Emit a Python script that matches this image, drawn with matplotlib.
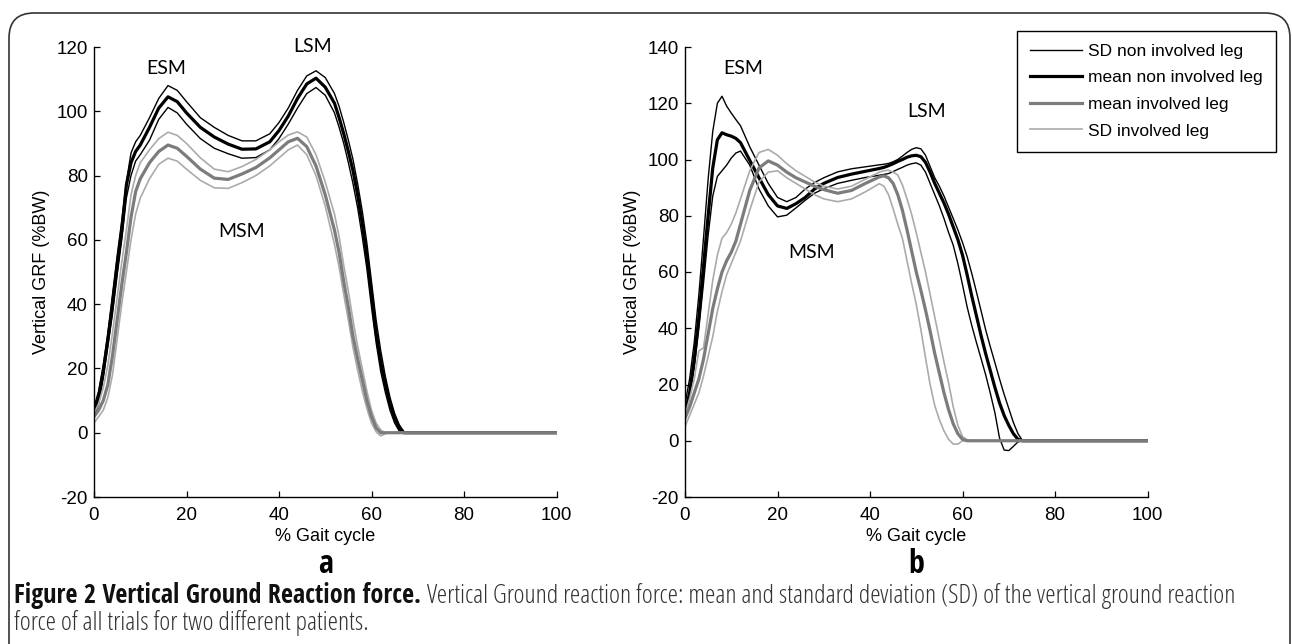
import matplotlib
matplotlib.use("Agg")
import matplotlib.pyplot as plt
from matplotlib import font_manager as fm
from matplotlib.patches import FancyBboxPatch
from matplotlib.font_manager import FontProperties

# ---------------- data ----------------
# panel a
xa = [0, 1, 2, 3, 4, 5, 6, 7, 8, 9, 10, 12, 14, 16, 18, 20, 23, 26, 29, 32, 35, 38,
      40, 42, 44, 46, 48, 50, 52, 53, 54, 55, 56, 57, 58, 59, 60, 61, 62, 63, 64, 65,
      66, 67, 68, 100]
a_sd_non_up = [8, 13, 21, 31, 43, 55, 66, 78, 87, 90.5, 92.5, 98, 104, 108, 106.5, 103,
               98, 95, 92.5, 90.8, 90.8, 93, 96.5, 101, 106.5, 111, 112.6, 110.5, 105.5,
               101.5, 96.5, 91, 85, 77.5, 69, 59, 47, 35, 25.5, 17.5, 11, 6, 2.5, 0.3, 0, 0]
a_mean_non = [6, 11, 19, 29, 40, 52, 63, 77, 84, 87.5, 89.5, 95, 101, 104.5, 103, 99.5,
              95, 92, 89.8, 88.2, 88.3, 90.5, 94, 98.5, 104, 108.5, 110.3, 107.5, 102.5,
              98, 93, 87.5, 81.5, 74, 65, 55, 43, 31, 22, 15, 9, 4.5, 1.5, 0, 0, 0]
a_sd_non_lo = [5, 9, 17, 27, 37, 49, 60, 73, 80, 84.5, 86.5, 91, 97.5, 101.2, 99.5, 96,
               91.5, 88.5, 86.8, 85.4, 85.6, 88, 91.5, 96, 101, 105.5, 107.4, 105, 99.5,
               95, 90, 84, 77.5, 70, 61, 51, 39, 28, 19, 12.5, 7, 3, 0.5, 0, 0, 0]
a_sd_inv_up = [6, 9, 14, 21, 31, 42, 53, 63, 74, 80, 84, 88, 91.5, 93.5, 92.5, 90,
               85.5, 82, 81.2, 82.8, 85, 88, 90.5, 92.6, 93.6, 92, 86.5, 78, 68,
               61, 52, 44, 35, 27, 20, 13, 7, 3, 0.8, 0, 0, 0, 0, 0, 0, 0]
a_mean_inv = [5, 7, 10, 15, 24, 35, 46, 56, 67, 75, 79, 84, 87.5, 89.5, 88.5, 86,
              82, 79.2, 78.8, 80.5, 82.5, 85.5, 88, 90.5, 91.6, 89, 83, 74, 63,
              56, 47, 39, 30, 23, 16.5, 10, 5, 1.5, 0, 0, 0, 0, 0, 0, 0, 0]
a_sd_inv_lo = [3, 5, 7, 11, 18, 29, 40, 50, 60, 68, 73, 79, 83.5, 85.4, 84.5, 82,
               78.5, 76.2, 76, 77.8, 80, 83, 85.5, 88, 89.5, 86.5, 80, 70.5, 58.5,
               51.5, 43, 35, 26.5, 19.5, 13, 7.5, 3, 0.3, -1, -0.3, 0, 0, 0, 0, 0, 0]

# panel b
xb = [0, 1, 2, 3, 4, 5, 6, 7, 8, 9, 10, 11, 12, 14, 16, 18, 20, 22, 24, 26, 28, 30,
      33, 36, 39, 42, 43, 44, 45, 46, 47, 48, 49, 50, 51, 52, 53, 54, 55, 56, 57, 58,
      59, 60, 61, 62, 63, 64, 65, 66, 67, 68, 69, 70, 71, 72, 73, 100]
b_sd_non_up = [13, 22, 35, 52, 72, 93, 110, 120, 122.5, 119, 116.5, 114.2, 112, 104.5,
               98, 91.5, 86.5, 85, 86.5, 89.5, 91.8, 93.5, 95.6, 96.7, 97.4, 98.1, 98.3,
               98.6, 99.2, 100, 101.2, 102.5, 103.6, 104.2, 103.8, 101.5, 97.5, 93.5,
               90.5, 87, 83, 79, 75, 70.5, 65.5, 59.5, 53, 46.3, 39.5, 33.5, 27.8, 22,
               16.5, 11.5, 6.5, 2.5, 0, 0]
b_mean_non = [10, 17, 29, 44, 62, 80, 97, 107, 109.5, 108.8, 108.3, 107.5, 106, 99.7,
              93.5, 87.5, 83.5, 82.6, 84.3, 86.5, 89.5, 91.5, 93.6, 94.8, 95.8, 96.8,
              97.2, 97.8, 98.5, 99.3, 100, 100.8, 101.3, 101.5, 101, 99, 95.5, 91.5, 88,
              84.5, 80.5, 76, 71.5, 66, 59, 51.5, 44.5, 37.5, 31, 25, 19, 13.5, 9, 5.5,
              2.5, 0.5, 0, 0]
b_sd_non_lo = [11, 16, 26, 40, 56, 73, 87, 94, 96, 98, 100.5, 102.3, 103, 98, 89.5,
               83.5, 79.6, 80.2, 82.8, 85.5, 88, 89.6, 91.5, 92.6, 93.6, 94.4, 94.7, 95,
               95.7, 96.5, 97.2, 98, 98.5, 98.8, 98, 95.5, 91.5, 87.5, 83.5, 79, 74,
               69.5, 63, 55.5, 47.6, 41, 35, 29.3, 23.5, 17, 10, 1, -3.3, -3.5, -2,
               -0.4, 0, 0]
b_sd_inv_up = [9, 15, 22, 32, 33, 45, 57, 66, 72, 74, 77, 81, 86, 96, 102.5, 103.6,
               101.5, 98.5, 96, 94, 92, 90.5, 89.5, 90.5, 93, 95.5, 96, 96.2, 95.5, 94.5,
               91, 86, 80.5, 74, 67, 60, 52, 44, 36, 28, 20.5, 12, 5.5, 1.5, 0.3, 0, 0,
               0, 0, 0, 0, 0, 0, 0, 0, 0, 0, 0]
b_mean_inv = [8, 12, 17, 22, 29, 38, 47, 54, 60, 64, 67, 71, 77, 89, 97, 99.5, 98,
              95.5, 93.5, 92, 90.5, 89.3, 88, 89, 91.5, 93.8, 94.2, 93.5, 91.5, 87.5, 82,
              75, 67.5, 60, 53.5, 46.5, 39, 31, 24, 17, 11, 6, 2.5, 0.5, 0, 0, 0, 0, 0,
              0, 0, 0, 0, 0, 0, 0, 0, 0]
b_sd_inv_lo = [5, 9, 13, 17, 23, 30, 37, 46, 53, 59, 63, 67, 71, 82, 92, 95.5, 96,
               93.5, 91.5, 89.5, 87.5, 86, 85, 86, 88.5, 91.4, 90.5, 87.5, 82.5, 77, 72,
               64, 56, 48.5, 39.5, 29.5, 20, 12.5, 7.5, 3.5, 0.5, -1.2, -1.2, 0, 0, 0, 0,
               0, 0, 0, 0, 0, 0, 0, 0, 0, 0, 0]

legend_labels = ["SD non involved leg", "mean non involved leg",
                 "mean involved leg", "SD involved leg"]
panel_letters = ["a", "b"]
yticks_a = [-20, 0, 20, 40, 60, 80, 100, 120]
yticks_b = [-20, 0, 20, 40, 60, 80, 100, 120, 140]
xticks = [0, 20, 40, 60, 80, 100]
phase_a = {"ESM": (15.7, 113.4), "LSM": (47.3, 120.0), "MSM": (31.9, 62.5)}
phase_b = {"ESM": (12.6, 132.3), "LSM": (52.3, 116.9), "MSM": (27.4, 67.1)}
caption_bold = "Figure 2 Vertical Ground Reaction force."
caption_rest = ("Vertical Ground reaction force: mean and standard deviation (SD) of the "
                "vertical ground reaction")
caption_line2 = "force of all trials for two different patients."

# ---------------- fonts ----------------
plt.rcParams["font.family"] = ["Liberation Sans", "DejaVu Sans"]
plt.rcParams["axes.unicode_minus"] = False


def find_condensed(bold):
    best = None
    for f in fm.fontManager.ttflist:
        nm = (f.name + " " + f.fname).lower()
        if "open sans" in f.name.lower() or "opensans" in nm:
            if ("condensed" in nm or str(f.stretch) in ("condensed", "semi-condensed")) \
                    and "italic" not in nm and f.style == "normal":
                w = f.weight if isinstance(f.weight, int) else (700 if "bold" in str(f.weight) else 400)
                target = 700 if bold else 400
                if best is None or abs(w - target) < abs(best[0] - target):
                    best = (w, f.fname)
    if best is not None:
        return FontProperties(fname=best[1])
    for f in fm.fontManager.ttflist:
        if "narrow" in f.name.lower() and "liberation" in f.name.lower() and f.style == "normal":
            isb = "bold" in f.fname.lower()
            if isb == bold:
                return FontProperties(fname=f.fname)
    return FontProperties(family="DejaVu Sans", weight="bold" if bold else "normal")


cap_reg = find_condensed(False)
cap_bold = find_condensed(True)

W, H = 1292, 644
fig = plt.figure(figsize=(W / 100, H / 100), dpi=100)

c_sd_non = "black"
c_mean_non = "black"
c_mean_inv = "#7c7c7c"
c_sd_inv = "#ababab"


def make_axes(left_px, ylim, yticks):
    ax = fig.add_axes([left_px / W, 1 - 497 / H, 462.5 / W, 450 / H])
    ax.set_xlim(0, 100)
    ax.set_ylim(*ylim)
    ax.set_xticks(xticks)
    ax.set_yticks(yticks)
    for s in ("top", "right"):
        ax.spines[s].set_visible(False)
    for s in ("left", "bottom"):
        ax.spines[s].set_linewidth(1.0)
    ax.tick_params(direction="in", length=4, width=0.9, labelsize=13.5)
    ax.tick_params(axis="x", pad=7)
    ax.tick_params(axis="y", pad=4.5)
    ax.set_ylabel("Vertical GRF (%BW)", fontsize=13)
    ax.set_xlabel("% Gait cycle", fontsize=13)
    ax.yaxis.set_label_coords(-0.095, 0.5)
    ax.xaxis.set_label_coords(0.5, -0.068)
    return ax


def draw(ax, x, up, mean, lo, iup, imean, ilo):
    ax.plot(x, up, color=c_sd_non, lw=1.0, label=legend_labels[0])
    ax.plot(x, lo, color=c_sd_non, lw=1.0)
    ax.plot(x, mean, color=c_mean_non, lw=2.3, label=legend_labels[1])
    ax.plot(x, iup, color=c_sd_inv, lw=1.2)
    ax.plot(x, ilo, color=c_sd_inv, lw=1.2, label=legend_labels[3])
    ax.plot(x, imean, color=c_mean_inv, lw=2.3, label=legend_labels[2])


axA = make_axes(94, (-20, 120), yticks_a)
draw(axA, xa, a_sd_non_up, a_mean_non, a_sd_non_lo, a_sd_inv_up, a_mean_inv, a_sd_inv_lo)
axB = make_axes(685, (-20, 140), yticks_b)
draw(axB, xb, b_sd_non_up, b_mean_non, b_sd_non_lo, b_sd_inv_up, b_mean_inv, b_sd_inv_lo)

for ax, ph in ((axA, phase_a), (axB, phase_b)):
    for k, (x, y) in ph.items():
        ax.text(x, y, k, ha="center", va="center", fontsize=14,
                family=["Lato", "DejaVu Sans"], clip_on=False)

# legend
h, l = axB.get_legend_handles_labels()
hd = dict(zip(l, h))
leg = fig.legend([hd[t] for t in legend_labels], legend_labels,
                 loc="upper left", bbox_to_anchor=(1017 / W, 1 - 30.5 / H),
                 bbox_transform=fig.transFigure, borderaxespad=0,
                 fancybox=False, framealpha=1, edgecolor="black",
                 fontsize=12.5, handlelength=3.0, handletextpad=0.35,
                 labelspacing=0.66, borderpad=0.75)
leg.get_frame().set_linewidth(1.0)
for t in leg.get_texts():
    t.set_family(["Liberation Sans", "DejaVu Sans"])

# panel letters
for ax, letter in ((axA, "a"), (axB, "b")):
    ax.text(0.5, -0.168, letter, transform=ax.transAxes, ha="center", va="baseline",
            fontproperties=cap_bold, fontsize=23)

# outer rounded frame
frame = FancyBboxPatch((0.09, -0.5), 12.81, 6.31 + 0.5,
                       boxstyle="round,pad=0,rounding_size=0.25",
                       transform=fig.dpi_scale_trans, facecolor="none",
                       edgecolor="#333333", linewidth=1.2, clip_on=False)
fig.patches.append(frame)

# caption
renderer = fig.canvas.get_renderer()
size = 14.0
x0 = 14 / W
y1 = 1 - 603 / H
y2 = 1 - 630 / H
for _ in range(3):
    t1 = fig.text(x0, y1, caption_bold, fontproperties=cap_bold, fontsize=size,
                  va="baseline", ha="left", color="#111111")
    bb = t1.get_window_extent(renderer)
    gap = size * 0.3
    t2 = fig.text(bb.x1 / W + gap / W, y1, caption_rest, fontproperties=cap_reg,
                  fontsize=size, va="baseline", ha="left", color="#333333")
    bb2 = t2.get_window_extent(renderer)
    ratio = (1232 - 14) / (bb2.x1 - 14)
    if abs(ratio - 1) < 0.003:
        break
    t1.remove()
    t2.remove()
    size *= ratio
fig.text(x0, y2, caption_line2, fontproperties=cap_reg, fontsize=size,
         va="baseline", ha="left", color="#333333")

fig.savefig("out.png", dpi=100)
